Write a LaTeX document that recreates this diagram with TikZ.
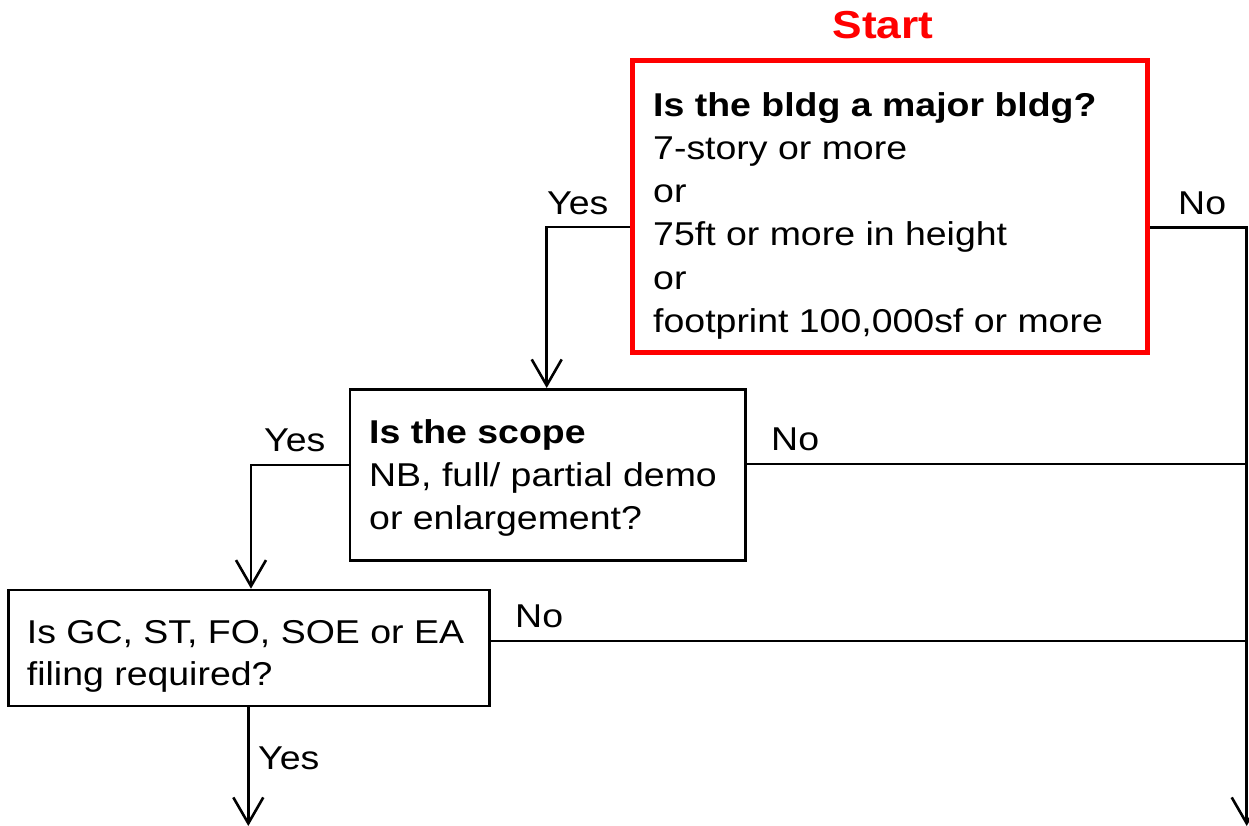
\documentclass[tikz,border=0pt]{standalone}
\usepackage{fontspec}
\setmainfont[FakeStretch=1.135]{Liberation Sans}
\usetikzlibrary{arrows.meta}
\definecolor{startred}{RGB}{255,0,0}
\newcommand{\bodyfont}{\fontsize{33pt}{43pt}\selectfont}
\begin{document}
\begin{tikzpicture}[x=1pt,y=-1pt,
  box/.style={draw, line width=2.6pt, inner sep=0pt},
  startbox/.style={draw=startred, line width=5pt, inner sep=0pt},
  txt/.style={anchor=base west, inner sep=0pt, font=\bodyfont},
  conn/.style={line width=2.6pt},
  arr/.style={conn, -{Straight Barb[length=26pt, width=30pt]}}]
\useasboundingbox (0,0) rectangle (1249,826);
% boxes
\node[startbox, minimum width=515pt, minimum height=291pt] (red) at (890,206.5) {};
\node[box, minimum width=395.5pt, minimum height=171.4pt] (b2) at (547.75,475) {};
\node[box, minimum width=481.3pt, minimum height=116pt] (b3) at (248.95,648) {};
% title
\node[anchor=base, inner sep=0pt, text=startred, font=\fontsize{39pt}{44pt}\selectfont\bfseries] (start) at (883,39) {Start};
% texts red box
\node[txt, font=\bodyfont\bfseries] (r1) at (653,117) {Is the bldg a major bldg?};
\node[txt] (r2) at (653,160) {7-story or more};
\node[txt] (r3) at (653,203) {or};
\node[txt] (r4) at (653,246) {75ft or more in height};
\node[txt] (r5) at (653,289) {or};
\node[txt] (r6) at (653,332) {footprint 100,000sf or more};
% texts box 2
\node[txt, font=\bodyfont\bfseries] (s1) at (369,443) {Is the scope};
\node[txt] (s2) at (369,486) {NB, full/ partial demo};
\node[txt] (s3) at (369,529) {or enlargement?};
% texts box 3
\node[txt] (t1) at (26.7,643) {Is GC, ST, FO, SOE or EA};
\node[txt] (t2) at (26.7,685) {filing required?};
% coordinates
\coordinate (rail) at (1246.7,227.7);
\coordinate (endR) at (1246.7,826);
\coordinate (endL) at (248.3,826);
% connectors
\draw[arr] (red.west |- 0,227) -| (b2.north -| 546.7,0);
\draw[arr] (red.east |- rail) -- (rail) -- (endR);
\draw[arr] (b2.west |- 0,465) -| (b3.north -| 251,0);
\draw[conn] (b2.east |- 0,464) -- (rail |- 0,464);
\draw[conn] (b3.east |- 0,641) -- (rail |- 0,641);
\draw[arr] (b3.south -| endL) -- (endL);
% labels
\node[txt] (y1) at (547,215) {Yes};
\node[txt] (n1) at (1178,215) {No};
\node[txt] (y2) at (264,451) {Yes};
\node[txt] (n2) at (771,450) {No};
\node[txt] (n3) at (515,627) {No};
\node[txt] (y3) at (258,769) {Yes};
\end{tikzpicture}
\end{document}
